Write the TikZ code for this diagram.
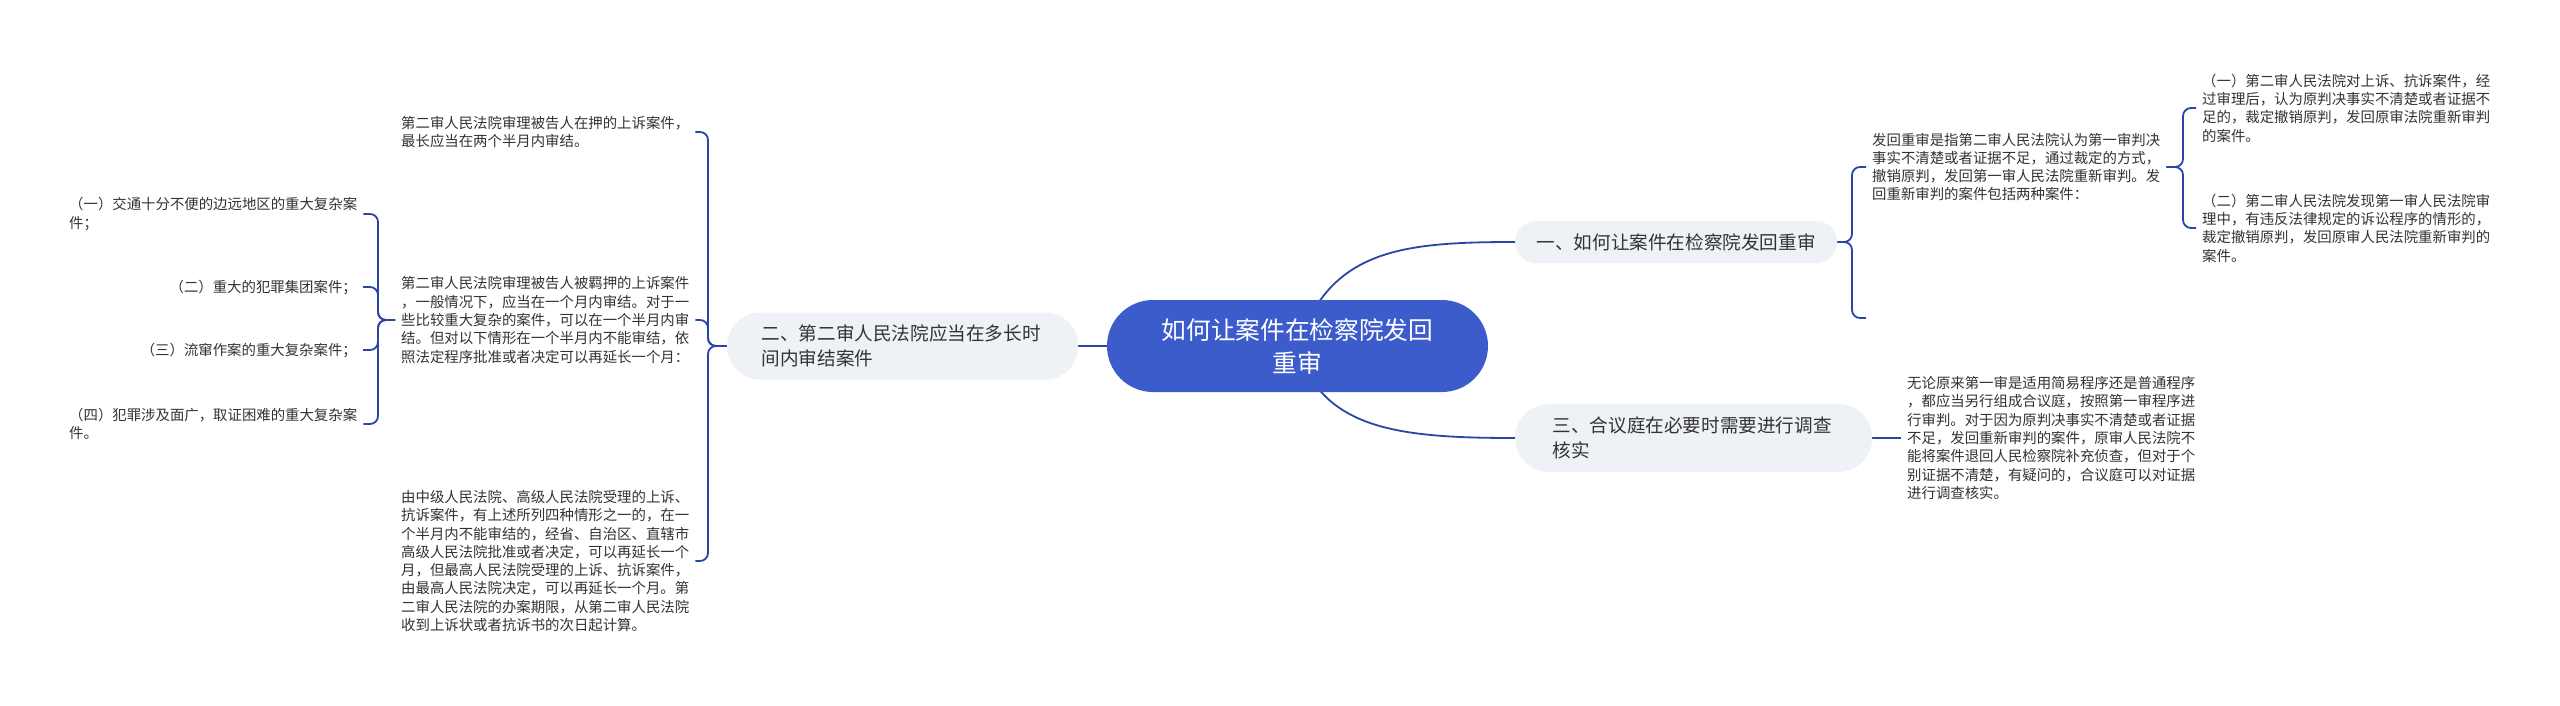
\documentclass[tikz,border=0pt]{standalone}
\usepackage{fontspec}
\newfontfamily\cjk{Noto Sans CJK SC}
\usetikzlibrary{backgrounds}
\definecolor{linec}{RGB}{42,70,165}
\definecolor{rootc}{RGB}{61,92,204}
\definecolor{pillc}{RGB}{238,241,245}
\definecolor{textc}{RGB}{51,51,51}
\tikzset{
  leaf/.style={font=\cjk\fontsize{14.4pt}{18.3pt}\selectfont, align=left, inner xsep=6pt, inner ysep=0pt, text=textc},
  pill/.style={fill=pillc, font=\cjk\fontsize{18.6pt}{25pt}\selectfont, text=textc, align=left, inner ysep=0pt},
  conn/.style={draw=linec, line width=1.8pt, rounded corners=8pt},
  rootconn/.style={draw=linec, line width=1.8pt}
}
\begin{document}
\begin{tikzpicture}[x=1pt,y=-1pt]
\useasboundingbox (0,0) rectangle (2560,706);

% root and level 1
\node[fill=rootc, rounded corners=46pt, minimum width=381pt, minimum height=92pt, text=white, align=center, inner sep=0pt, font=\cjk\fontsize{24.7pt}{33pt}\selectfont] (root) at (1297.5,346) {如何让案件在检察院发回\\重审};
\node[pill, rounded corners=21pt, minimum height=42pt, inner xsep=21.5pt, anchor=west] (n1) at (1515,242) {一、如何让案件在检察院发回重审};
\node[pill, rounded corners=33pt, minimum height=67pt, text width=282pt, inner xsep=34.5pt, anchor=west] (n2) at (727,346) {二、第二审人民法院应当在多长时\\间内审结案件};
\node[pill, rounded corners=34pt, minimum height=68pt, text width=282pt, inner xsep=37.5pt, anchor=west] (n3) at (1515,438) {三、合议庭在必要时需要进行调查\\核实};

% left leaves
\node[leaf, anchor=west] (A) at (395,132) {第二审人民法院审理被告人在押的上诉案件，\\最长应当在两个半月内审结。};
\node[leaf, anchor=west] (B) at (395,320) {第二审人民法院审理被告人被羁押的上诉案件\\，一般情况下，应当在一个月内审结。对于一\\些比较重大复杂的案件，可以在一个半月内审\\结。但对以下情形在一个半月内不能审结，依\\照法定程序批准或者决定可以再延长一个月：};
\node[leaf, anchor=west] (C) at (395,561) {由中级人民法院、高级人民法院受理的上诉、\\抗诉案件，有上述所列四种情形之一的，在一\\个半月内不能审结的，经省、自治区、直辖市\\高级人民法院批准或者决定，可以再延长一个\\月，但最高人民法院受理的上诉、抗诉案件，\\由最高人民法院决定，可以再延长一个月。第\\二审人民法院的办案期限，从第二审人民法院\\收到上诉状或者抗诉书的次日起计算。};

\node[leaf, anchor=west] (L1) at (63,214) {（一）交通十分不便的边远地区的重大复杂案\\件；};
\node[leaf, anchor=east] (L2) at (363,287) {（二）重大的犯罪集团案件；};
\node[leaf, anchor=east] (L3) at (363,350) {（三）流窜作案的重大复杂案件；};
\node[leaf, anchor=west] (L4) at (63,424) {（四）犯罪涉及面广，取证困难的重大复杂案\\件。};

% right leaves
\node[leaf, anchor=west] (D) at (1866,167) {发回重审是指第二审人民法院认为第一审判决\\事实不清楚或者证据不足，通过裁定的方式，\\撤销原判，发回第一审人民法院重新审判。发\\回重新审判的案件包括两种案件：};
\coordinate (blank) at (1866,318);
\node[leaf, anchor=west] (F) at (2196,108) {（一）第二审人民法院对上诉、抗诉案件，经\\过审理后，认为原判决事实不清楚或者证据不\\足的，裁定撤销原判，发回原审法院重新审判\\的案件。};
\node[leaf, anchor=west] (G) at (2196,228) {（二）第二审人民法院发现第一审人民法院审\\理中，有违反法律规定的诉讼程序的情形的，\\裁定撤销原判，发回原审人民法院重新审判的\\案件。};
\node[leaf, anchor=west] (E) at (1901,438) {无论原来第一审是适用简易程序还是普通程序\\，都应当另行组成合议庭，按照第一审程序进\\行审判。对于因为原判决事实不清楚或者证据\\不足，发回重新审判的案件，原审人民法院不\\能将案件退回人民检察院补充侦查，但对于个\\别证据不清楚，有疑问的，合议庭可以对证据\\进行调查核实。};

\begin{pgfonlayer}{background}
\fill[white] (0,0) rectangle (2560,706);
\draw[rootconn] (root.center) .. controls (1330,250) and (1400,242) .. (n1.west);
\draw[rootconn] (root.center) .. controls (1320,430) and (1400,438) .. (n3.west);
\draw[rootconn] (root.west) -- (n2.east);

\draw[conn] (n2.west) -- (708,346) -- (708,132) -- (A.east);
\draw[conn] (n2.west) -- (708,346) -- (708,320) -- (B.east);
\draw[conn] (n2.west) -- (708,346) -- (708,561) -- (C.east);

\draw[conn] (B.west) -- (378,320) -- (378,214) -- (L1.east);
\draw[conn] (B.west) -- (378,320) -- (378,287) -- (L2.east);
\draw[conn] (B.west) -- (378,320) -- (378,350) -- (L3.east);
\draw[conn] (B.west) -- (378,320) -- (378,424) -- (L4.east);

\draw[conn] (n1.east) -- (1852,242) -- (1852,167) -- (D.west);
\draw[conn] (n1.east) -- (1852,242) -- (1852,318) -- (blank);

\draw[conn] (D.east) -- (2183,167) -- (2183,108) -- (F.west);
\draw[conn] (D.east) -- (2183,167) -- (2183,228) -- (G.west);

\draw[rootconn] (n3.east) -- (E.west);
\end{pgfonlayer}
\end{tikzpicture}
\end{document}
